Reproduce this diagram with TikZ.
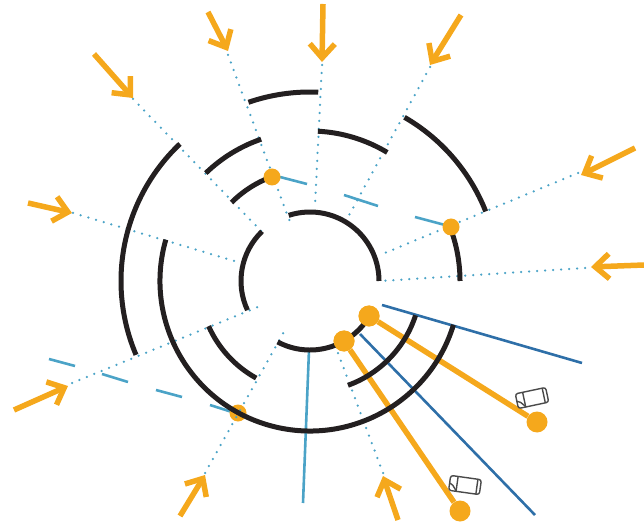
\documentclass[tikz,border=0pt]{standalone}
\usetikzlibrary{arrows.meta}
\definecolor{ringblack}{HTML}{231F20}
\definecolor{signalorange}{HTML}{F5A81C}
\definecolor{laneblue}{HTML}{4BA3C7}
\definecolor{rayblue}{HTML}{2E6FA8}
\definecolor{cargray}{HTML}{4A4A4A}
\tikzset{
  ringline/.style={draw=ringblack, line width=5pt},
  feedline/.style={draw=laneblue, line width=2.5pt, line cap=round, dash pattern=on 0pt off 8pt},
  laneline/.style={draw=laneblue, line width=2.6pt},
  rayline/.style={draw=rayblue, line width=2.6pt},
  beamline/.style={draw=signalorange, line width=5.5pt},
  inarrow/.style={draw=signalorange, line width=5.5pt, -{Straight Barb[length=14pt, width=25pt, line width=5.5pt]}},
  smalldot/.style={circle, fill=signalorange, minimum size=17pt, inner sep=0pt},
  bigdot/.style={circle, fill=signalorange, minimum size=21pt, inner sep=0pt},
  carbody/.pic={
    \draw[cargray, line width=1.4pt, rounded corners=2.5pt] (-15.5,-7.5) rectangle (15.5,7.5);
    \draw[cargray, line width=1.4pt] (-8,7.5) -- (-8,-7.5);
    \draw[cargray, line width=1.4pt] (12,7.5) -- (12,-7.5);
    \draw[cargray, line width=1.4pt] (-15.5,0) -- (-12,-2) -- (-8,-7);
  }
}
\begin{document}
\begin{tikzpicture}[x=1pt, y=1pt]
  \useasboundingbox (0,0) rectangle (644,522);
  \coordinate (hub) at (310,241);
  % dark rays
  \coordinate (rayAa) at (382,217);
  \coordinate (rayAb) at (582,159);
  \coordinate (rayBa) at (360,188);
  \coordinate (rayBb) at (535,7);
  \draw[rayline] (rayAa) -- (rayAb);
  \draw[rayline] (rayBa) -- (rayBb);
  % light lanes
  \coordinate (laneAa) at (280,345);
  \coordinate (laneAb) at (307,338);
  \coordinate (laneBa) at (344,327);
  \coordinate (laneBb) at (378,316);
  \coordinate (laneCa) at (415,305);
  \coordinate (laneCb) at (445,297);
  \coordinate (laneDa) at (49,163);
  \coordinate (laneDb) at (75,156);
  \coordinate (laneEa) at (102,148);
  \coordinate (laneEb) at (128,140);
  \coordinate (laneFa) at (156,132);
  \coordinate (laneFb) at (182,125);
  \coordinate (laneGa) at (210,117);
  \coordinate (laneGb) at (232,110);
  \coordinate (laneHa) at (309,172);
  \coordinate (laneHb) at (303,19);
  \draw[laneline] (laneAa) -- (laneAb);
  \draw[laneline] (laneBa) -- (laneBb);
  \draw[laneline] (laneCa) -- (laneCb);
  \draw[laneline] (laneDa) -- (laneDb);
  \draw[laneline] (laneEa) -- (laneEb);
  \draw[laneline] (laneFa) -- (laneFb);
  \draw[laneline] (laneGa) -- (laneGb);
  \draw[laneline] (laneHa) -- (laneHb);
  % dot under the outer ring
  \node[smalldot] (dotC) at (238,109) {};
  % dotted feeds
  \coordinate (feedAa) at (322,457);
  \coordinate (feedAb) at (315,317);
  \coordinate (feedBa) at (228,467);
  \coordinate (feedBb) at (290,300);
  \coordinate (feedCa) at (133,423);
  \coordinate (feedCb) at (264,288);
  \coordinate (feedDa) at (73,309);
  \coordinate (feedDb) at (241,259);
  \coordinate (feedEa) at (72,139);
  \coordinate (feedEb) at (258,215);
  \coordinate (feedFa) at (205,49);
  \coordinate (feedFb) at (285,192);
  \coordinate (feedGa) at (383,49);
  \coordinate (feedGb) at (335,177);
  \coordinate (feedHa) at (430,455);
  \coordinate (feedHb) at (347,303);
  \coordinate (feedIa) at (578,349);
  \coordinate (feedIb) at (380,267);
  \coordinate (feedJa) at (585,254);
  \coordinate (feedJb) at (380,241);
  \draw[feedline] (feedAa) -- (feedAb);
  \draw[feedline] (feedBa) -- (feedBb);
  \draw[feedline] (feedCa) -- (feedCb);
  \draw[feedline] (feedDa) -- (feedDb);
  \draw[feedline] (feedEa) -- (feedEb);
  \draw[feedline] (feedFa) -- (feedFb);
  \draw[feedline] (feedGa) -- (feedGb);
  \draw[feedline] (feedHa) -- (feedHb);
  \draw[feedline] (feedIa) -- (feedIb);
  \draw[feedline] (feedJa) -- (feedJb);
  % beams
  \node[bigdot] (stopA) at (369,206) {};
  \node[bigdot] (stopB) at (344,181) {};
  \node[bigdot] (farA) at (537,100) {};
  \node[bigdot] (farB) at (460,11) {};
  \draw[beamline] (stopA) -- (farA);
  \draw[beamline] (stopB) -- (farB);
  % rings
  \draw[ringline] (hub) ++(108:69) arc[start angle=108, end angle=0, radius=69];
  \draw[ringline] (hub) ++(134:69) arc[start angle=134, end angle=205, radius=69];
  \draw[ringline] (hub) ++(242:69) arc[start angle=242, end angle=329, radius=69];
  \draw[ringline] (hub) ++(135:111) arc[start angle=135, end angle=110, radius=111];
  \draw[ringline] (hub) ++(204:111) arc[start angle=204, end angle=241, radius=111];
  \draw[ringline] (hub) ++(290:111) arc[start angle=290, end angle=342, radius=111];
  \draw[ringline] (hub) ++(134:150) arc[start angle=134, end angle=109, radius=150];
  \draw[ringline] (hub) ++(87:150) arc[start angle=87, end angle=59, radius=150];
  \draw[ringline] (hub) ++(20.6:150) arc[start angle=20.6, end angle=0, radius=150];
  \draw[ringline] (hub) ++(164:150) arc[start angle=164, end angle=343, radius=150];
  \draw[ringline] (hub) ++(109:189) arc[start angle=109, end angle=87.5, radius=189];
  \draw[ringline] (hub) ++(60:189) arc[start angle=60, end angle=21.6, radius=189];
  \draw[ringline] (hub) ++(133.5:189) arc[start angle=133.5, end angle=203, radius=189];
  % dots on top
  \node[smalldot] (dotA) at (272,345) {};
  \node[smalldot] (dotB) at (451,295) {};
  \node[bigdot] at (stopA) {};
  \node[bigdot] at (stopB) {};
  % incoming arrows
  \coordinate (tailA) at (323,518);
  \coordinate (tipA) at (322,460);
  \coordinate (tailB) at (208,510);
  \coordinate (tipB) at (228,471);
  \coordinate (tailC) at (94,468);
  \coordinate (tipC) at (133,424);
  \coordinate (tailD) at (28,319);
  \coordinate (tipD) at (72,309);
  \coordinate (tailE) at (14,112);
  \coordinate (tipE) at (68,136);
  \coordinate (tailF) at (180,6);
  \coordinate (tipF) at (205,47);
  \coordinate (tailG) at (398,2);
  \coordinate (tipG) at (383,46);
  \coordinate (tailH) at (461,507);
  \coordinate (tipH) at (430,457);
  \coordinate (tailI) at (635,374);
  \coordinate (tipI) at (581,347);
  \coordinate (tailJ) at (644,257);
  \coordinate (tipJ) at (591,255);
  \draw[inarrow] (tailA) -- (tipA);
  \draw[inarrow] (tailB) -- (tipB);
  \draw[inarrow] (tailC) -- (tipC);
  \draw[inarrow] (tailD) -- (tipD);
  \draw[inarrow] (tailE) -- (tipE);
  \draw[inarrow] (tailF) -- (tipF);
  \draw[inarrow] (tailG) -- (tipG);
  \draw[inarrow] (tailH) -- (tipH);
  \draw[inarrow] (tailI) -- (tipI);
  \draw[inarrow] (tailJ) -- (tipJ);
  % cars
  \pic[rotate=12] at (532,124) {carbody};
  \pic[rotate=-8] at (465,37) {carbody};
\end{tikzpicture}
\end{document}
